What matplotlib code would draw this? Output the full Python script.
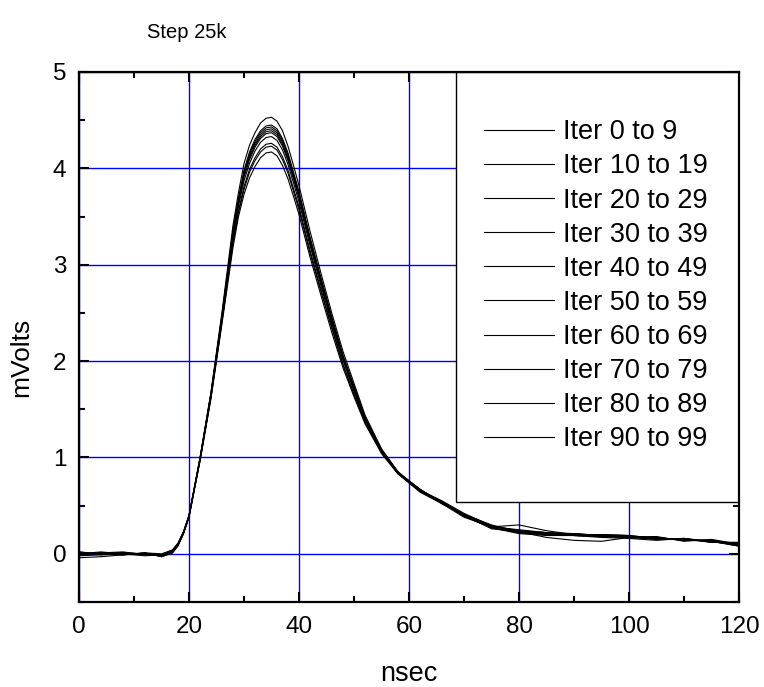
import matplotlib
matplotlib.use('Agg')
import matplotlib.pyplot as plt
from matplotlib.patches import Rectangle
from matplotlib.ticker import MultipleLocator

plt.rcParams['font.family'] = ['Liberation Sans', 'DejaVu Sans']

# time axis (nsec), shared by all traces
t = [0, 4, 8, 12, 15, 17, 18, 19, 20, 22, 24, 26, 28, 29, 30, 31, 32, 33, 34, 35, 36,
     37, 38, 39, 40, 42, 44, 46, 48, 50, 52, 55, 58, 62, 66, 70, 75, 80, 85, 90, 95,
     100, 105, 110, 115, 120]

it_0_9 = [-0.04, -0.03, -0.01, 0.00, -0.02, 0.02, 0.09, 0.21, 0.38,
          0.96, 1.61, 2.39, 3.18, 3.50, 3.73,
          3.90, 4.02, 4.11, 4.16, 4.17, 4.13, 4.03, 3.89, 3.71, 3.52,
          3.08, 2.68, 2.29, 1.93, 1.63,
          1.35, 1.04, 0.83, 0.64, 0.52, 0.41, 0.29,
          0.24, 0.22, 0.21, 0.19, 0.18,
          0.17, 0.14, 0.14, 0.09]
it_10_19 = [0.01, 0.00, 0.01, -0.01, -0.01, 0.03, 0.10, 0.22, 0.39,
            0.97, 1.63, 2.41, 3.22, 3.54, 3.78,
            3.96, 4.08, 4.17, 4.22, 4.23, 4.19, 4.09, 3.95, 3.76, 3.57,
            3.12, 2.72, 2.33, 1.96, 1.65,
            1.37, 1.05, 0.83, 0.66, 0.54, 0.39, 0.27,
            0.22, 0.20, 0.19, 0.18, 0.17,
            0.15, 0.16, 0.12, 0.11]
it_20_29 = [0.00, 0.01, -0.01, 0.01, -0.03, 0.01, 0.08, 0.21, 0.38,
            0.97, 1.63, 2.42, 3.24, 3.56, 3.81,
            3.99, 4.11, 4.20, 4.25, 4.26, 4.22, 4.12, 3.98, 3.79, 3.60,
            3.15, 2.74, 2.35, 1.97, 1.66,
            1.37, 1.06, 0.83, 0.65, 0.53, 0.40, 0.28,
            0.30, 0.24, 0.20, 0.20, 0.19,
            0.16, 0.15, 0.13, 0.08]
it_30_39 = [0.02, -0.01, 0.00, 0.00, -0.01, 0.03, 0.10, 0.22, 0.39,
            0.98, 1.64, 2.44, 3.28, 3.61, 3.87,
            4.05, 4.18, 4.27, 4.32, 4.33, 4.29, 4.19, 4.04, 3.85, 3.65,
            3.20, 2.78, 2.38, 2.01, 1.69,
            1.39, 1.07, 0.84, 0.67, 0.52, 0.41, 0.30,
            0.23, 0.21, 0.21, 0.19, 0.18,
            0.17, 0.14, 0.14, 0.10]
it_40_49 = [-0.01, 0.01, 0.02, -0.01, -0.02, 0.02, 0.10, 0.22, 0.39,
            0.98, 1.65, 2.45, 3.31, 3.64, 3.91,
            4.09, 4.22, 4.31, 4.36, 4.37, 4.33, 4.23, 4.08, 3.89, 3.69,
            3.23, 2.81, 2.40, 2.02, 1.70,
            1.40, 1.07, 0.84, 0.66, 0.54, 0.39, 0.27,
            0.21, 0.19, 0.19, 0.17, 0.16,
            0.14, 0.16, 0.12, 0.12]
it_50_59 = [0.01, 0.00, -0.01, 0.01, 0.00, 0.04, 0.11, 0.23, 0.40,
            0.98, 1.66, 2.46, 3.32, 3.65, 3.93,
            4.11, 4.24, 4.33, 4.38, 4.39, 4.35, 4.25, 4.10, 3.91, 3.71,
            3.24, 2.82, 2.42, 2.03, 1.71,
            1.41, 1.07, 0.84, 0.67, 0.53, 0.40, 0.28,
            0.24, 0.22, 0.20, 0.20, 0.19,
            0.16, 0.15, 0.13, 0.09]
it_60_69 = [-0.02, -0.01, 0.01, 0.00, -0.02, 0.02, 0.10, 0.22, 0.39,
            0.98, 1.66, 2.47, 3.33, 3.66, 3.94,
            4.13, 4.26, 4.35, 4.40, 4.41, 4.37, 4.27, 4.12, 3.92, 3.72,
            3.26, 2.83, 2.43, 2.04, 1.72,
            1.41, 1.08, 0.84, 0.66, 0.55, 0.42, 0.29,
            0.22, 0.20, 0.21, 0.18, 0.17,
            0.18, 0.13, 0.15, 0.10]
it_70_79 = [0.00, 0.02, 0.00, -0.02, -0.01, 0.03, 0.10, 0.22, 0.39,
            0.99, 1.66, 2.47, 3.34, 3.68, 3.96,
            4.15, 4.28, 4.37, 4.42, 4.43, 4.39, 4.29, 4.14, 3.94, 3.74,
            3.27, 2.85, 2.44, 2.05, 1.73,
            1.42, 1.08, 0.85, 0.65, 0.53, 0.40, 0.26,
            0.23, 0.17, 0.14, 0.13, 0.17,
            0.16, 0.15, 0.12, 0.11]
it_80_89 = [0.02, 0.00, -0.01, 0.01, -0.03, 0.01, 0.09, 0.21, 0.39,
            0.99, 1.67, 2.48, 3.36, 3.69, 3.98,
            4.17, 4.30, 4.39, 4.44, 4.45, 4.41, 4.31, 4.16, 3.96, 3.76,
            3.29, 2.86, 2.45, 2.06, 1.74,
            1.42, 1.08, 0.85, 0.67, 0.52, 0.38, 0.28,
            0.25, 0.22, 0.20, 0.19, 0.18,
            0.15, 0.16, 0.13, 0.08]
it_90_99 = [-0.01, 0.01, 0.01, 0.00, -0.01, 0.04, 0.11, 0.23, 0.40,
            1.00, 1.68, 2.51, 3.41, 3.75, 4.05,
            4.24, 4.37, 4.47, 4.52, 4.53, 4.49, 4.39, 4.23, 4.03, 3.82,
            3.35, 2.91, 2.49, 2.10, 1.77,
            1.44, 1.09, 0.85, 0.66, 0.54, 0.41, 0.27,
            0.22, 0.21, 0.19, 0.18, 0.18,
            0.17, 0.14, 0.14, 0.10]

labels = ['Iter 0 to 9', 'Iter 10 to 19', 'Iter 20 to 29', 'Iter 30 to 39',
          'Iter 40 to 49', 'Iter 50 to 59', 'Iter 60 to 69', 'Iter 70 to 79',
          'Iter 80 to 89', 'Iter 90 to 99']
traces = [it_0_9, it_10_19, it_20_29, it_30_39, it_40_49,
          it_50_59, it_60_69, it_70_79, it_80_89, it_90_99]

fig = plt.figure(figsize=(7.64, 6.87), dpi=100)
ax = fig.add_axes([0.1034, 0.1237, 0.8639, 0.7715])

for y, lab in zip(traces, labels):
    ax.plot(t, y, color='black', lw=0.8, label=lab, zorder=2)

ax.set_xlim(0, 120)
ax.set_ylim(-0.5, 5)
ax.xaxis.set_major_locator(MultipleLocator(20))
ax.xaxis.set_minor_locator(MultipleLocator(10))
ax.yaxis.set_major_locator(MultipleLocator(1))
ax.yaxis.set_minor_locator(MultipleLocator(0.5))
ax.tick_params(which='both', direction='in', top=True, right=True, width=1.5)
ax.tick_params(which='major', length=7, labelsize=17.5, pad=10)
ax.tick_params(axis='y', which='major', pad=9)
ax.tick_params(which='minor', length=4.5)
ax.grid(True, which='major', color='#0000ff', lw=1.0, zorder=1)
for s in ax.spines.values():
    s.set_linewidth(1.6)
    s.set_zorder(6)

ax.set_xlabel('nsec', fontsize=19.5)
ax.set_ylabel('mVolts', fontsize=19)
ax.xaxis.set_label_coords(0.5, -0.112)
ax.yaxis.set_label_coords(-0.07, 0.462)

# legend box
ax.add_patch(Rectangle((0.5712, 0.1887), 0.4288, 0.8113, transform=ax.transAxes,
                       facecolor='white', edgecolor='black', lw=1, zorder=4))
ax.legend(loc='center left', bbox_to_anchor=(0.6136, 0.5964), frameon=False,
          fontsize=19.5, handlelength=2.6, handletextpad=0.3, labelspacing=0.3,
          borderpad=0, borderaxespad=0)

fig.text(0.192, 0.952, 'Step 25k', fontsize=14.5, ha='left', va='center')

fig.savefig('out.png', dpi=100)
